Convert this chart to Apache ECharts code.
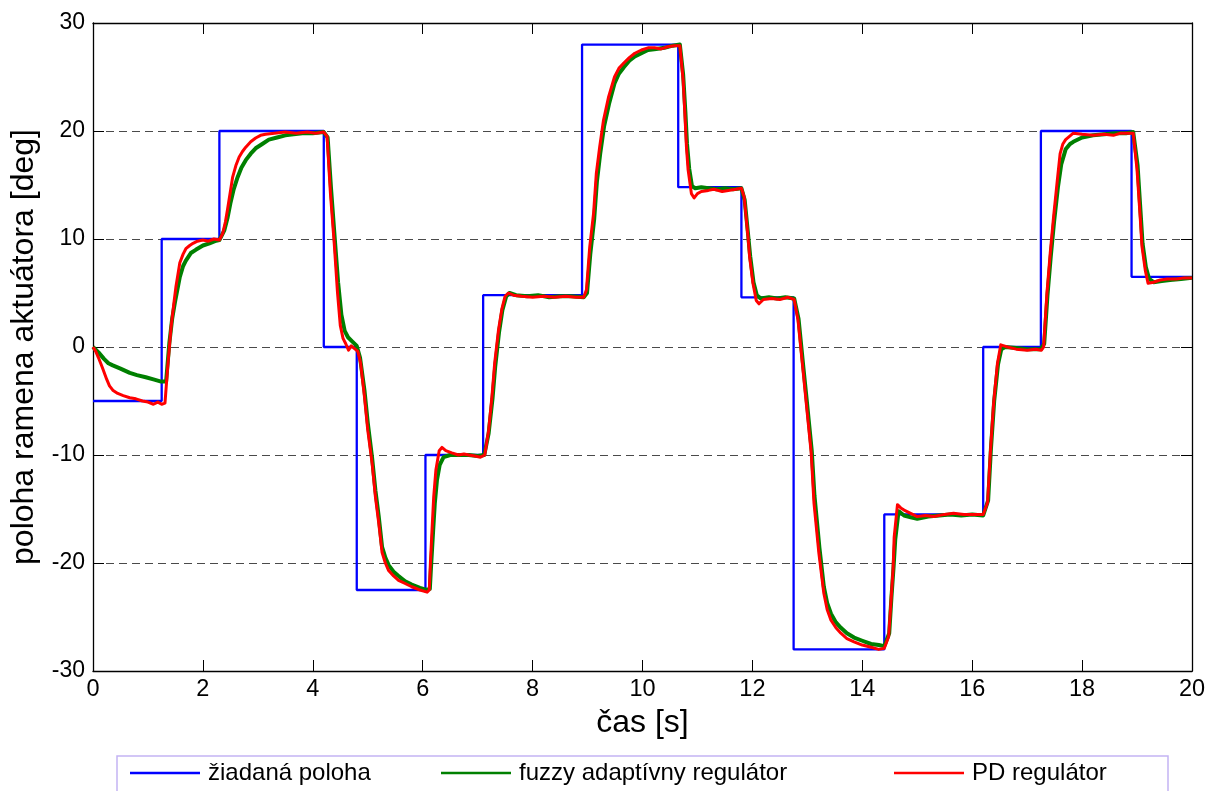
<!DOCTYPE html>
<html>
<head>
<meta charset="utf-8">
<title>poloha ramena aktuátora</title>
<script src="https://cdn.jsdelivr.net/npm/echarts@6/dist/echarts.min.js"></script>
<style>
  html, body { margin: 0; padding: 0; background: #fff; }
  #chart { width: 1209px; height: 791px; }
</style>
</head>
<body>
<div id="chart"></div>
<script>
// Axis ticks
const xTicks = [0, 2, 4, 6, 8, 10, 12, 14, 16, 18, 20];
const yTicks = [-30, -20, -10, 0, 10, 20, 30];

// Setpoint (žiadaná poloha): switching times [s] and held values [deg]
const refTime = [0, 1.25, 2.3, 4.2, 4.8, 6.05, 7.1, 8.9, 10.65, 11.8, 12.75, 14.4, 16.2, 17.25, 18.9, 20];
const refPos  = [-5, 10, 20, 0, -22.5, -10, 4.8, 28, 14.8, 4.6, -28, -15.5, 0, 20, 6.5, 6.5];

// Fuzzy adaptive controller response
const fuzzyTime = [0, 0.1, 0.2, 0.28, 0.36, 0.5, 0.67, 0.8, 0.96, 1.1, 1.24, 1.33, 1.39, 1.44, 1.49, 1.58, 1.64, 1.69, 1.78, 1.87, 2.0, 2.12, 2.22, 2.3,
  2.39, 2.45, 2.5, 2.56, 2.63, 2.7, 2.78, 2.87, 2.96, 3.08, 3.2, 3.35, 3.5, 3.65, 3.81, 4.0, 4.2,
  4.27, 4.33, 4.4, 4.46, 4.52, 4.58, 4.64, 4.72, 4.8, 4.86, 4.94, 5.0, 5.08, 5.14, 5.2, 5.26, 5.32, 5.38, 5.47, 5.56, 5.68, 5.8, 5.95, 6.07,
  6.13, 6.15, 6.19, 6.22, 6.26, 6.31, 6.38, 6.5, 6.65, 6.84, 7.0, 7.12,
  7.2, 7.27, 7.32, 7.39, 7.45, 7.52, 7.58, 7.7, 7.9, 8.1, 8.3, 8.5, 8.7, 8.93,
  8.99, 9.05, 9.12, 9.17, 9.23, 9.3, 9.39, 9.49, 9.57, 9.66, 9.76, 9.86, 9.98, 10.1, 10.25, 10.4, 10.55, 10.68,
  10.74, 10.78, 10.81, 10.85, 10.9, 10.96, 11.07, 11.2, 11.35, 11.5, 11.65, 11.8,
  11.86, 11.92, 11.96, 12.02, 12.08, 12.15, 12.3, 12.45, 12.6, 12.76,
  12.84, 12.93, 12.99, 13.08, 13.13, 13.22, 13.3, 13.36, 13.43, 13.52, 13.61, 13.72, 13.85, 14.0, 14.16, 14.3, 14.4,
  14.49, 14.53, 14.57, 14.6, 14.66, 14.76, 14.9, 15.0, 15.2, 15.4, 15.6, 15.8, 16.0, 16.2,
  16.29, 16.34, 16.4, 16.47, 16.53, 16.6, 16.8, 17.0, 17.25,
  17.31, 17.37, 17.43, 17.49, 17.56, 17.62, 17.7, 17.78, 17.84, 18.0, 18.2, 18.4, 18.6, 18.8, 18.93,
  19.01, 19.07, 19.1, 19.16, 19.22, 19.3, 19.45, 19.6, 19.8, 20.0];
const fuzzyPos = [0, -0.5, -1.1, -1.5, -1.7, -2.0, -2.4, -2.6, -2.8, -3.0, -3.2, -3.2, 0.4, 2.6, 4.1, 6.5, 7.5, 8.0, 8.7, 9.0, 9.4, 9.6, 9.8, 9.9,
  10.8, 12.0, 13.3, 14.6, 15.7, 16.6, 17.3, 17.9, 18.4, 18.8, 19.2, 19.4, 19.6, 19.7, 19.8, 19.8, 19.9,
  19.4, 14.8, 10.0, 6.0, 3.0, 1.5, 0.9, 0.5, 0.1, -1.0, -4.0, -7.0, -10.3, -13.3, -15.7, -18.5, -19.5, -20.2, -20.8, -21.2, -21.7, -22.0, -22.3, -22.5,
  -22.4, -20.5, -17.0, -14.5, -12.3, -10.9, -10.2, -10.0, -10.0, -10.0, -10.1, -10.0,
  -8.0, -4.8, -1.8, 1.4, 3.4, 4.7, 5.0, 4.8, 4.7, 4.8, 4.6, 4.7, 4.7, 4.6,
  5.0, 8.6, 11.8, 15.3, 17.9, 20.4, 22.5, 24.4, 25.3, 25.9, 26.5, 26.9, 27.2, 27.5, 27.6, 27.7, 27.9, 28.0,
  25.2, 21.8, 18.8, 16.5, 14.9, 14.7, 14.8, 14.7, 14.6, 14.7, 14.6, 14.7,
  13.6, 10.5, 8.4, 6.0, 4.8, 4.5, 4.6, 4.5, 4.6, 4.5,
  2.6, -2.0, -5.0, -9.6, -13.8, -18.6, -22.2, -23.7, -24.7, -25.5, -26.0, -26.5, -26.9, -27.2, -27.5, -27.6, -27.7,
  -26.5, -23.2, -20.3, -17.8, -15.2, -15.6, -15.8, -15.9, -15.7, -15.6, -15.5, -15.6, -15.5, -15.6,
  -14.2, -9.5, -5.0, -1.6, -0.2, 0.0, -0.1, -0.2, -0.2,
  0.3, 4.8, 8.4, 11.6, 14.8, 16.9, 18.3, 18.8, 19.0, 19.4, 19.6, 19.7, 19.8, 19.8, 19.9,
  16.8, 12.0, 9.6, 7.4, 6.3, 6.0, 6.1, 6.2, 6.3, 6.4];

// PD controller response
const pdTime = [0, 0.05, 0.1, 0.17, 0.25, 0.3, 0.36, 0.45, 0.55, 0.67, 0.78, 0.9, 1.0, 1.1, 1.18, 1.25, 1.31,
  1.36, 1.42, 1.47, 1.51, 1.58, 1.64, 1.69, 1.76, 1.82, 1.9, 2.0, 2.1, 2.2, 2.3,
  2.36, 2.41, 2.45, 2.5, 2.54, 2.6, 2.66, 2.72, 2.78, 2.87, 2.96, 3.05, 3.14, 3.3, 3.5, 3.7, 3.9, 4.05, 4.2,
  4.26, 4.32, 4.39, 4.45, 4.5, 4.55, 4.6, 4.65, 4.7, 4.77, 4.82,
  4.87, 4.94, 5.0, 5.08, 5.14, 5.2, 5.26, 5.32, 5.38, 5.47, 5.56, 5.68, 5.8, 5.95, 6.08,
  6.12, 6.14, 6.17, 6.2, 6.24, 6.3, 6.35, 6.42, 6.53, 6.65, 6.75, 6.84, 6.95, 7.05, 7.13,
  7.2, 7.26, 7.31, 7.38, 7.44, 7.5, 7.56, 7.65, 7.8, 8.0, 8.2, 8.4, 8.6, 8.8, 8.93,
  8.98, 9.04, 9.11, 9.16, 9.22, 9.29, 9.38, 9.49, 9.57, 9.66, 9.76, 9.86, 9.98, 10.1, 10.22, 10.34, 10.46, 10.58, 10.68,
  10.74, 10.77, 10.8, 10.83, 10.89, 10.94, 11.0, 11.07, 11.2, 11.3, 11.45, 11.56, 11.7, 11.8,
  11.85, 11.92, 11.95, 12.01, 12.07, 12.12, 12.2, 12.35, 12.5, 12.65, 12.76,
  12.83, 12.92, 12.98, 13.07, 13.12, 13.21, 13.3, 13.36, 13.43, 13.52, 13.61, 13.72, 13.85, 14.0, 14.16, 14.3, 14.4,
  14.48, 14.52, 14.56, 14.58, 14.64, 14.7, 14.76, 14.88, 15.0, 15.15, 15.3, 15.5, 15.66, 15.85, 16.03, 16.2,
  16.28, 16.33, 16.39, 16.46, 16.52, 16.58, 16.64, 16.8, 17.0, 17.15, 17.26,
  17.3, 17.36, 17.42, 17.48, 17.55, 17.6, 17.65, 17.7, 17.84, 18.0, 18.2, 18.4, 18.57, 18.7, 18.82, 18.93,
  19.0, 19.06, 19.09, 19.15, 19.2, 19.3, 19.42, 19.55, 19.72, 19.86, 20.0];
const pdPos = [0, -0.4, -1.0, -1.9, -3.0, -3.6, -4.0, -4.3, -4.5, -4.7, -4.8, -5.0, -5.1, -5.3, -5.1, -5.3, -5.2,
  -1.8, 1.8, 4.0, 5.6, 7.8, 8.6, 9.1, 9.4, 9.6, 9.8, 9.9, 9.8, 10.0, 9.9,
  10.5, 11.6, 12.8, 14.4, 15.7, 16.8, 17.6, 18.1, 18.5, 19.0, 19.35, 19.6, 19.7, 19.8, 19.9, 19.8, 19.9, 19.8, 19.9,
  19.5, 14.3, 9.6, 5.0, 2.0, 0.8, 0.3, -0.3, 0.1, -0.2, -0.4,
  -1.5, -4.6, -7.7, -10.8, -13.9, -16.3, -19.0, -20.0, -20.7, -21.2, -21.6, -21.9, -22.2, -22.5, -22.7,
  -22.5, -20.0, -16.9, -13.9, -11.4, -9.6, -9.3, -9.6, -9.8, -10.0, -9.9, -10.0, -10.1, -10.2, -10.0,
  -7.7, -4.6, -1.5, 1.6, 3.5, 4.7, 5.0, 4.8, 4.7, 4.6, 4.7, 4.6, 4.7, 4.6, 4.6,
  5.3, 9.3, 12.4, 16.1, 18.5, 21.0, 23.1, 25.0, 25.8, 26.3, 26.8, 27.2, 27.5, 27.7, 27.7, 27.6, 27.8, 27.9, 27.9,
  24.7, 21.7, 18.5, 16.4, 14.2, 13.8, 14.2, 14.4, 14.5, 14.6, 14.4, 14.5, 14.6, 14.7,
  13.9, 10.2, 8.3, 5.9, 4.3, 4.0, 4.4, 4.5, 4.4, 4.6, 4.4,
  2.5, -2.1, -5.2, -9.8, -14.4, -19.1, -22.8, -24.3, -25.3, -26.0, -26.5, -27.0, -27.3, -27.6, -27.8, -28.0, -27.9,
  -26.8, -23.7, -20.6, -17.6, -14.6, -14.9, -15.1, -15.4, -15.7, -15.6, -15.7, -15.5, -15.4, -15.5, -15.5, -15.5,
  -14.4, -9.8, -5.2, -1.5, 0.2, 0.1, 0.0, -0.2, -0.3, -0.2, -0.3,
  0.0, 5.0, 8.7, 12.0, 15.5, 17.9, 18.8, 19.2, 19.8, 19.7, 19.6, 19.7, 19.6, 19.8, 19.8, 19.8,
  16.4, 11.8, 9.3, 7.1, 5.9, 6.0, 6.2, 6.3, 6.3, 6.4, 6.4];

const seriesNames = ['žiadaná poloha', 'fuzzy adaptívny regulátor', 'PD regulátor'];
const seriesColors = ['#0000ff', '#008000', '#ff0000'];

const zip = (t, v) => t.map((x, i) => [x, v[i]]);

const FONT = '"Liberation Sans", Arial, sans-serif';
const GRID = { left: 90, top: 23, width: 1102, height: 648 };

const chart = echarts.init(document.getElementById('chart'), null, { renderer: 'canvas' });

const baseX = {
  type: 'value', min: xTicks[0], max: xTicks[xTicks.length - 1], interval: 2,
  axisLine: { show: true, onZero: false, lineStyle: { color: '#000', width: 1.3 } },
  axisTick: { show: true, inside: true, length: 11, lineStyle: { color: '#000', width: 1 } },
  splitLine: { show: false }
};
const baseY = {
  type: 'value', min: yTicks[0], max: yTicks[yTicks.length - 1], interval: 10,
  axisLine: { show: true, onZero: false, lineStyle: { color: '#000', width: 1.3 } },
  axisTick: { show: true, inside: true, length: 11, lineStyle: { color: '#000', width: 1 } }
};

chart.setOption({
  animation: false,
  backgroundColor: '#fff',
  textStyle: { fontFamily: FONT },
  grid: GRID,
  graphic: [{
    type: 'rect', z: 0,
    shape: { x: 117, y: 756, width: 1051, height: 44 },
    style: { fill: '#fff', stroke: '#c4b4f4', lineWidth: 1.5 }
  }],
  legend: seriesNames.map((name, i) => ({
    data: [name],
    left: [130, 441, 894][i],
    top: 761,
    padding: 0,
    icon: 'rect',
    itemWidth: 70,
    itemHeight: 2.5,
    selectedMode: false,
    textStyle: { fontFamily: FONT, fontSize: 24, color: '#000', padding: [0, 0, 0, 3] }
  })),
  xAxis: [
    Object.assign({}, baseX, {
      position: 'bottom',
      name: 'čas [s]', nameLocation: 'middle', nameGap: 33,
      nameTextStyle: { fontFamily: FONT, fontSize: 32, color: '#000' },
      axisLabel: { show: true, margin: 7, fontFamily: FONT, fontSize: 23.5, color: '#000' }
    }),
    Object.assign({}, baseX, { position: 'top', axisLabel: { show: false } })
  ],
  yAxis: [
    Object.assign({}, baseY, {
      position: 'left',
      name: 'poloha ramena aktuátora [deg]', nameLocation: 'middle', nameGap: 53,
      nameTextStyle: { fontFamily: FONT, fontSize: 32, color: '#000' },
      axisLabel: { show: true, margin: 8, fontFamily: FONT, fontSize: 23, color: '#000' },
      splitLine: { show: true, lineStyle: { color: '#4a4a4a', width: 1, type: [8, 5] } }
    }),
    Object.assign({}, baseY, { position: 'right', axisLabel: { show: false }, splitLine: { show: false } })
  ],
  series: [
    {
      name: seriesNames[0], type: 'line', step: 'end', showSymbol: false, z: 2,
      data: zip(refTime, refPos),
      itemStyle: { color: seriesColors[0] },
      lineStyle: { color: seriesColors[0], width: 2.3 }
    },
    {
      name: seriesNames[1], type: 'line', showSymbol: false, z: 3,
      data: zip(fuzzyTime, fuzzyPos),
      itemStyle: { color: seriesColors[1] },
      lineStyle: { color: seriesColors[1], width: 4, join: 'round' }
    },
    {
      name: seriesNames[2], type: 'line', showSymbol: false, z: 4,
      data: zip(pdTime, pdPos),
      itemStyle: { color: seriesColors[2] },
      lineStyle: { color: seriesColors[2], width: 3, join: 'round' }
    }
  ]
});
</script>
</body>
</html>
